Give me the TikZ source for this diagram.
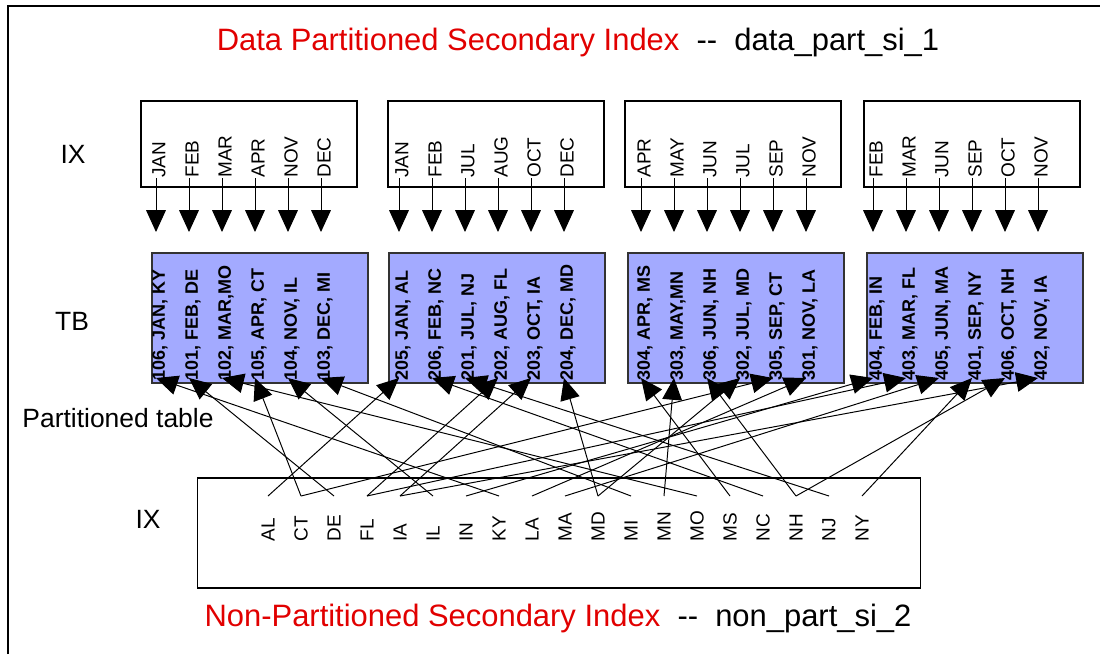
\documentclass[tikz,border=0pt]{standalone}
\usepackage{fontspec}
\setmainfont{Liberation Sans}
\usetikzlibrary{arrows.meta}

\definecolor{tbblue}{RGB}{163,170,255}
\definecolor{titlered}{RGB}{225,0,0}

\tikzset{
  ixbox/.style={draw, line width=1pt, minimum width=5.4cm, minimum height=2.15cm},
  tbbox/.style={draw=black!80, line width=1pt, fill=tbblue, minimum width=5.4cm, minimum height=3.25cm},
  month/.style={rotate=90, anchor=west, inner sep=0pt, font=\fontsize{13.5}{14}\selectfont},
  rowlab/.style={rotate=90, anchor=west, inner sep=0pt, font=\fontsize{12.8}{13}\selectfont\bfseries},
  sidelab/.style={anchor=base, font=\fontsize{18.8}{20}\selectfont},
  titlelab/.style={anchor=base, font=\fontsize{22}{24}\selectfont},
}

\begin{document}
\begin{tikzpicture}[x=0.025cm, y=-0.025cm, >={Triangle[length=15.5pt,width=14pt]}, line width=0.7pt]
  \useasboundingbox (0,0) rectangle (1100,654);
  \draw[line width=1.4pt] (8,654) -- (8,6) -- (1100,6);

  \node[titlelab] (toptitle) at (578,50)
    {\textcolor{titlered}{Data Partitioned Secondary Index}\ \ -{}-\ \ data\_part\_si\_1};
  \node[titlelab] (bottitle) at (558,626)
    {\textcolor{titlered}{Non-Partitioned Secondary Index}\ \ -{}-\ \ non\_part\_si\_2};

  \node[sidelab] (ixlab) at (73,163) {IX};
  \node[sidelab] (tblab) at (72,330) {TB};
  \node[sidelab] (ptlab) at (118,427) {Partitioned table};
  \node[sidelab] (npsilab) at (148,528) {IX};

  % partition index boxes and table parts
  \node[ixbox] (ix1) at (249,144) {};
  \node[ixbox] (ix2) at (496,144) {};
  \node[ixbox] (ix3) at (733,144) {};
  \node[ixbox] (ix4) at (972,144) {};
  \node[tbbox] (tb1) at (260,318) {};
  \node[tbbox] (tb2) at (497,318) {};
  \node[tbbox] (tb3) at (736,318) {};
  \node[tbbox] (tb4) at (975,318) {};
  \node[ixbox, minimum width=18.075cm, minimum height=2.75cm] (npsi) at (559,533) {};

  \foreach \b/\xa/\ml in {1/156/{JAN,FEB,MAR,APR,NOV,DEC}, 2/399/{JAN,FEB,JUL,AUG,OCT,DEC},
      3/641/{APR,MAY,JUN,JUL,SEP,NOV}, 4/873/{FEB,MAR,JUN,SEP,OCT,NOV}} {
    \foreach \m [count=\j] in \ml {
      \coordinate (t\b-\j) at ({\xa+33*(\j-1)},232);
      \node[month] (m\b-\j) at ({\xa+33*(\j-1)+3},178) {\m};
      \draw[->] (m\b-\j.west -| t\b-\j) -- (t\b-\j);
    }
  }

  \foreach \b/\xa/\rl in {1/156/{{106, JAN, KY},{101, FEB, DE},{102, MAR,MO},{105, APR, CT},{104, NOV, IL},{103, DEC, MI}},
      2/399/{{205, JAN, AL},{206, FEB, NC},{201, JUL, NJ},{202, AUG, FL},{203, OCT, IA},{204, DEC, MD}},
      3/641/{{304, APR, MS},{303, MAY,MN},{306, JUN, NH},{302, JUL, MD},{305, SEP, CT},{301, NOV, LA}},
      4/873/{{404, FEB, IN},{403, MAR, FL},{405, JUN, MA},{401, SEP, NY},{406, OCT, NH},{402, NOV, IA}}} {
    \foreach \r [count=\j] in \rl {
      \node[rowlab] (r\b-\j) at ({\xa+33*(\j-1)+4},381) {\r};
      \coordinate (p\b-\j) at ({\xa+33*(\j-1)},378);
    }
  }

  % non-partitioned index keys
  \foreach \s [count=\k from 0] in {AL,CT,DE,FL,IA,IL,IN,KY,LA,MA,MD,MI,MN,MO,MS,NC,NH,NJ,NY} {
    \node[month] (st\s) at ({268+33*\k},542) {\s};
    \coordinate (s\s) at ({268+33*\k},496);
  }

  \foreach \s/\t in {AL/2-1, CT/1-4, CT/3-5, DE/1-2, FL/2-4, FL/4-2, IA/2-5, IA/4-6,
      IL/1-5, IN/4-1, KY/1-1, LA/3-6, MA/4-3, MD/2-6, MD/3-4, MI/1-6, MN/3-2, MO/1-3,
      MS/3-1, NC/2-2, NH/3-3, NH/4-5, NJ/2-3, NY/4-4}
    \draw[->] (s\s) -- (p\t);
\end{tikzpicture}
\end{document}
